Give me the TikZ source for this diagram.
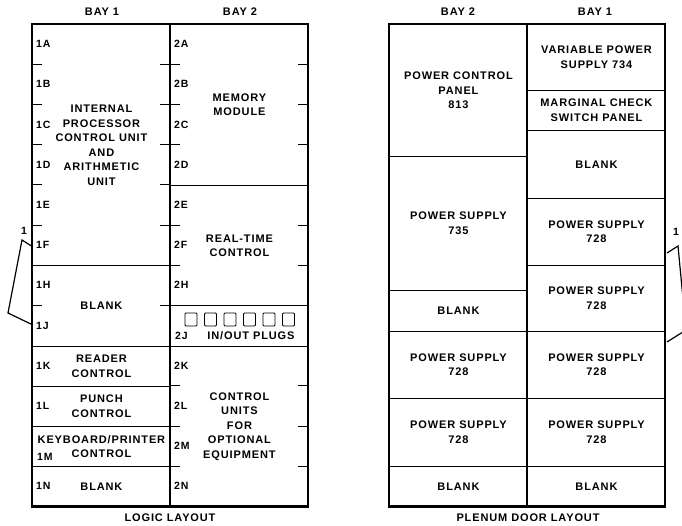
\documentclass[tikz,border=0pt]{standalone}
\usepackage{fontspec}
\setmainfont{Liberation Sans}[LetterSpace=8.0]
\usetikzlibrary{positioning}

\begin{document}
\begin{tikzpicture}[
    x=1pt, y=-1pt,
    cell/.style={draw, line width=0.9pt, anchor=north west, inner sep=0pt, minimum width=138pt, align=center, font=\bfseries\fontsize{11}{14.5}\selectfont},
    slot/.style={anchor=west, inner sep=0pt, font=\bfseries\fontsize{10.5}{12}\selectfont},
    bayname/.style={inner sep=0pt, font=\bfseries\fontsize{11}{13}\selectfont},
    frame/.style={line width=2.6pt},
    tickline/.style={line width=0.9pt}
]
    \useasboundingbox (0,0) rectangle (682,525);

    % logic layout, bay 1
    \node[cell, minimum height=241.2pt] (ipu) at (32,24) {INTERNAL\\PROCESSOR\\CONTROL UNIT\\AND\\ARITHMETIC\\UNIT};
    \node[cell, minimum height=80.4pt] (blankhj) at (32,265.2) {BLANK};
    \node[cell, minimum height=40.2pt] (reader) at (32,345.6) {READER\\CONTROL};
    \node[cell, minimum height=40.2pt] (punch) at (32,385.8) {PUNCH\\CONTROL};
    \node[cell, minimum height=40.2pt] (kbd) at (32,426) {KEYBOARD/PRINTER\\CONTROL};
    \node[cell, minimum height=40.2pt] (blankn) at (32,466.2) {BLANK};

    % logic layout, bay 2
    \node[cell, minimum height=160.8pt] (memory) at (170,24) {MEMORY\\MODULE};
    \node[cell, minimum height=120.6pt] (rtc) at (170,184.8) {REAL-TIME\\CONTROL};
    \node[cell, minimum height=40.2pt] (plugs) at (170,305.4) {};
    \node[cell, minimum height=160.8pt] (ctrl) at (170,345.6) {CONTROL\\UNITS\\FOR\\OPTIONAL\\EQUIPMENT};
    \node[bayname] (plugtxt) at (251,336) {IN/OUT PLUGS};
    \foreach \k in {0,...,5}
        \draw[tickline, rounded corners=1pt] (185+19.5*\k,313) rectangle ++(12,13);

    \draw[line width=1.3pt] (170,24) -- (170,506.4);
    \draw[frame] (32,24) rectangle (308,506.4);
    \foreach \r in {1,2,3,4,5,7}
        \draw[tickline] (32,24+40.2*\r) -- ++(10,0) (170,24+40.2*\r) -- ++(-10,0);
    \foreach \r in {1,2,3,5,6,9,10,11}
        \draw[tickline] (170,24+40.2*\r) -- ++(10,0) (308,24+40.2*\r) -- ++(-10,0);

    % slot names
    \foreach \s/\i in {A/0,B/1,C/2,D/3,E/4,F/5,H/6,J/7,K/8,L/9,N/11}
        \node[slot] (s1\s) at (36,44.1+40.2*\i) {1\s};
    \node[slot] (s1M) at (37,457) {1M};
    \foreach \s/\i in {A/0,B/1,C/2,D/3,E/4,F/5,H/6,K/8,L/9,M/10,N/11}
        \node[slot] (s2\s) at (174,44.1+40.2*\i) {2\s};
    \node[slot] (s2J) at (175,336) {2J};

    % plenum door layout, bay 2
    \node[cell, minimum height=132pt] (pcp) at (389,24) {POWER CONTROL\\PANEL\\813};
    \node[cell, minimum height=134pt] (ps735) at (389,156) {POWER SUPPLY\\735};
    \node[cell, minimum height=41pt] (blankp) at (389,290) {BLANK};
    \node[cell, minimum height=67pt] (psl1) at (389,331) {POWER SUPPLY\\728};
    \node[cell, minimum height=68pt] (psl2) at (389,398) {POWER SUPPLY\\728};
    \node[cell, minimum height=40.4pt] (blankl) at (389,466) {BLANK};

    % plenum door layout, bay 1
    \node[cell, minimum height=66pt] (vps) at (527,24) {VARIABLE POWER\\SUPPLY 734};
    \node[cell, minimum height=40pt] (mcs) at (527,90) {MARGINAL CHECK\\SWITCH PANEL};
    \node[cell, minimum height=68pt] (blankr) at (527,130) {BLANK};
    \node[cell, minimum height=67pt] (psr1) at (527,198) {POWER SUPPLY\\728};
    \node[cell, minimum height=66pt] (psr2) at (527,265) {POWER SUPPLY\\728};
    \node[cell, minimum height=67pt] (psr3) at (527,331) {POWER SUPPLY\\728};
    \node[cell, minimum height=68pt] (psr4) at (527,398) {POWER SUPPLY\\728};
    \node[cell, minimum height=40.4pt] (blankb) at (527,466) {BLANK};

    \draw[line width=1.3pt] (527,24) -- (527,506.4);
    \draw[frame] (389,24) rectangle (665,506.4);

    % bay names and captions
    \node[bayname] (bay1l) at (102,12) {BAY 1};
    \node[bayname] (bay2l) at (240,12) {BAY 2};
    \node[bayname] (bay2r) at (458,12) {BAY 2};
    \node[bayname] (bay1r) at (595,12) {BAY 1};
    \node[bayname] (logic) at (170,518) {LOGIC LAYOUT};
    \node[bayname] (plenum) at (528,518) {PLENUM DOOR LAYOUT};

    % brackets
    \node[slot, anchor=center] (lone) at (24,231) {1};
    \coordinate (la) at (33,247);
    \coordinate (lb) at (22,240);
    \coordinate (lc) at (8,313);
    \coordinate (ld) at (33,325);
    \draw[line width=1.2pt] (la) -- (lb) -- (lc) -- (ld);
    \node[slot, anchor=center] (rone) at (676,232) {1};
    \coordinate (ra) at (667,253);
    \coordinate (rb) at (678,246);
    \coordinate (rc) at (686,330);
    \coordinate (rd) at (667,342);
    \draw[line width=1.2pt] (ra) -- (rb) -- (rc) -- (rd);
\end{tikzpicture}
\end{document}
